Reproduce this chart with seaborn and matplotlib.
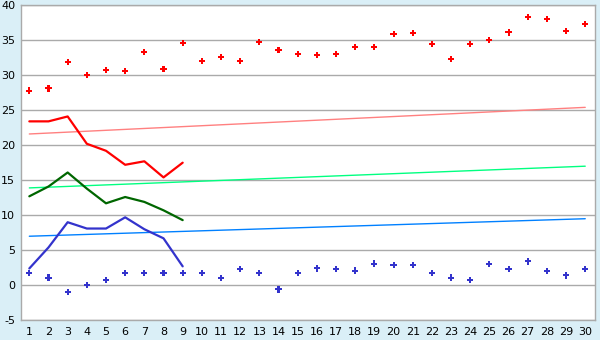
import matplotlib
matplotlib.use("Agg")
import matplotlib.pyplot as plt
import seaborn as sns
import pandas as pd

days = list(range(1, 31))
max_points = [27.8, 28.1, 31.9, 30.0, 30.7, 30.6, 33.3, 30.9, 34.6, 32.0,
              32.6, 32.0, 34.7, 33.6, 33.0, 32.9, 33.0, 34.0, 34.0, 35.9,
              36.0, 34.4, 32.3, 34.4, 35.0, 36.1, 38.3, 38.0, 36.3, 37.3]
min_points = [1.7, 1.1, -1.0, 0.0, 0.7, 1.7, 1.8, 1.7, 1.7, 1.7,
              1.0, 2.3, 1.7, -0.6, 1.7, 2.4, 2.3, 2.1, 3.1, 2.9,
              2.9, 1.7, 1.1, 0.7, 3.0, 2.3, 3.4, 2.0, 1.4, 2.3]
line_days = list(range(1, 10))
red_line = [23.4, 23.4, 24.1, 20.2, 19.2, 17.2, 17.7, 15.4, 17.5]
green_line = [12.7, 14.1, 16.1, 13.8, 11.7, 12.6, 11.9, 10.7, 9.3]
blue_line = [2.4, 5.4, 9.0, 8.1, 8.1, 9.7, 8.0, 6.7, 2.7]
trend_days = [1, 30]
trend_red = [21.6, 25.4]
trend_green = [13.9, 17.0]
trend_blue = [7.0, 9.5]

bg = "#DAEFF7"
grid = "#AAAAAA"

sns.set_style("white")
plt.rcParams["axes.unicode_minus"] = False
fig = plt.figure(figsize=(6, 3.4), dpi=100, facecolor=bg)
ax = fig.add_axes([0.0345, 0.058, 0.9575, 0.927])
ax.set_facecolor("white")

for y in range(-5, 41, 5):
    ax.axhline(y, color=grid, lw=1.0, zorder=0)

tr = pd.DataFrame({"d": trend_days, "r": trend_red, "g": trend_green, "b": trend_blue})
sns.lineplot(data=tr, x="d", y="r", ax=ax, color="#FF8080", lw=1.0, zorder=2)
sns.lineplot(data=tr, x="d", y="g", ax=ax, color="#00FF80", lw=1.0, zorder=2)
sns.lineplot(data=tr, x="d", y="b", ax=ax, color="#0080FF", lw=1.0, zorder=2)

ld = pd.DataFrame({"d": line_days, "r": red_line, "g": green_line, "b": blue_line})
sns.lineplot(data=ld, x="d", y="r", ax=ax, color="#FF0000", lw=1.6, zorder=3)
sns.lineplot(data=ld, x="d", y="g", ax=ax, color="#006600", lw=1.6, zorder=3)
sns.lineplot(data=ld, x="d", y="b", ax=ax, color="#3333CC", lw=1.6, zorder=3)

pts = pd.DataFrame({"d": days, "mx": max_points, "mn": min_points})
sns.scatterplot(data=pts, x="d", y="mx", ax=ax, color="#FF0000", marker="P", s=20,
                edgecolor="none", zorder=4)
sns.scatterplot(data=pts, x="d", y="mn", ax=ax, color="#3333CC", marker="P", s=20,
                edgecolor="none", zorder=4)

ax.set_xlim(0.55, 30.52)
ax.set_ylim(-5, 40)
ax.set_xticks(days)
ax.set_yticks(range(-5, 41, 5))
ax.set_xlabel("")
ax.set_ylabel("")
for s in ax.spines.values():
    s.set_color(grid)
    s.set_linewidth(1.0)
ax.tick_params(axis="both", which="major", length=3, width=1, color=grid,
               labelsize=8, labelcolor="#000000", direction="out", pad=2)
ax.tick_params(axis="y", pad=1)

fig.savefig("out.png", dpi=100, facecolor=bg)
